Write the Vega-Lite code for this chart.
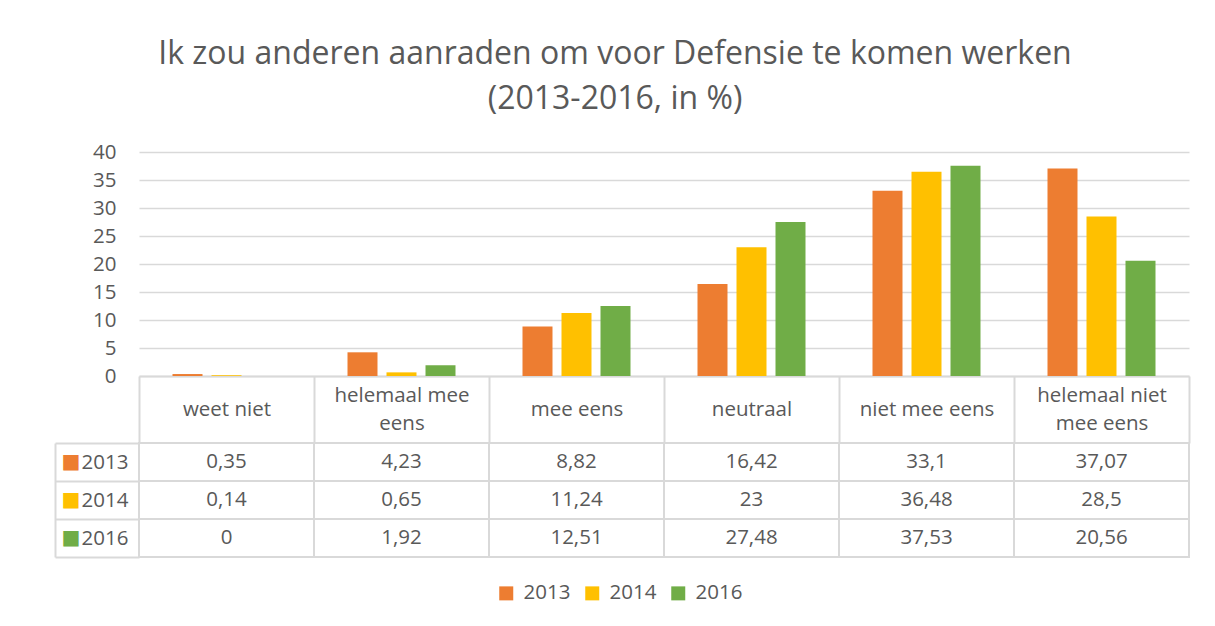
{
  "$schema": "https://vega.github.io/schema/vega-lite/v6.json",
  "background": "white",
  "padding": {"left": 54, "top": 38, "right": 20, "bottom": 10},
  "title": {
    "text": ["Ik zou anderen aanraden om voor Defensie te komen werken", "(2013-2016, in %)"],
    "font": "Open Sans",
    "fontSize": 32,
    "fontWeight": "normal",
    "color": "#595959",
    "lineHeight": 45,
    "anchor": "middle",
    "dx": -7,
    "offset": 26
  },
  "datasets": {
    "d": [
      {"cat": "weet niet", "year": "2013", "value": 0.35},
      {"cat": "weet niet", "year": "2014", "value": 0.14},
      {"cat": "weet niet", "year": "2016", "value": 0},
      {"cat": "helemaal mee eens", "year": "2013", "value": 4.23},
      {"cat": "helemaal mee eens", "year": "2014", "value": 0.65},
      {"cat": "helemaal mee eens", "year": "2016", "value": 1.92},
      {"cat": "mee eens", "year": "2013", "value": 8.82},
      {"cat": "mee eens", "year": "2014", "value": 11.24},
      {"cat": "mee eens", "year": "2016", "value": 12.51},
      {"cat": "neutraal", "year": "2013", "value": 16.42},
      {"cat": "neutraal", "year": "2014", "value": 23},
      {"cat": "neutraal", "year": "2016", "value": 27.48},
      {"cat": "niet mee eens", "year": "2013", "value": 33.1},
      {"cat": "niet mee eens", "year": "2014", "value": 36.48},
      {"cat": "niet mee eens", "year": "2016", "value": 37.53},
      {"cat": "helemaal niet mee eens", "year": "2013", "value": 37.07},
      {"cat": "helemaal niet mee eens", "year": "2014", "value": 28.5},
      {"cat": "helemaal niet mee eens", "year": "2016", "value": 20.56}
    ]
  },
  "bounds": "flush",
  "spacing": 67,
  "vconcat": [
    {
      "width": 1050,
      "height": 224,
      "data": {"name": "d"},
      "mark": {"type": "bar"},
      "encoding": {
        "x": {
          "field": "cat",
          "type": "nominal",
          "sort": ["weet niet", "helemaal mee eens", "mee eens", "neutraal", "niet mee eens", "helemaal niet mee eens"],
          "scale": {"paddingInner": 0, "paddingOuter": 0},
          "axis": {
            "title": null,
            "domainColor": "#d9d9d9",
            "domainWidth": 2,
            "tickColor": "#d9d9d9",
            "tickWidth": 2,
            "tickSize": 67,
            "tickBand": "extent",
            "labelAngle": 0,
            "labelFont": "Open Sans",
            "labelFontSize": 20.5,
            "labelColor": "#595959",
            "labelPadding": -48,
            "labelLineHeight": 14,
            "labelLimit": 300,
            "labelBaseline": "middle",
            "labelExpr": "datum.value == 'helemaal mee eens' ? ['helemaal mee', '\u200b', 'eens'] : datum.value == 'helemaal niet mee eens' ? ['helemaal niet', '\u200b', 'mee eens'] : ['\u200b', datum.value]"
          }
        },
        "xOffset": {
          "field": "year",
          "type": "nominal",
          "sort": ["2013", "2014", "2016"],
          "scale": {"paddingInner": 0.2308, "paddingOuter": 0.859}
        },
        "y": {
          "field": "value",
          "type": "quantitative",
          "scale": {"domain": [0, 40], "nice": false},
          "axis": {
            "title": null,
            "values": [0, 5, 10, 15, 20, 25, 30, 35, 40],
            "domain": false,
            "ticks": false,
            "tickSize": 0,
            "labelPadding": 23,
            "labelFont": "Open Sans",
            "labelFontSize": 20.5,
            "labelColor": "#595959",
            "gridColor": "#d9d9d9",
            "gridWidth": 1.3
          }
        },
        "color": {
          "field": "year",
          "type": "nominal",
          "scale": {"domain": ["2013", "2014", "2016"], "range": ["#ED7D31", "#FFC000", "#70AD47"]},
          "legend": {
            "orient": "none",
            "legendX": 357,
            "legendY": 431,
            "direction": "horizontal",
            "title": null,
            "symbolType": "square",
            "symbolSize": 196,
            "symbolStrokeWidth": 0,
            "labelFont": "Open Sans",
            "labelFontSize": 20.5,
            "labelColor": "#595959",
            "labelOffset": 7,
            "columnPadding": 11,
            "padding": 0
          }
        }
      }
    },
    {
      "width": 1050,
      "height": 114,
      "data": {"name": "d"},
      "transform": [
        {"calculate": "replace(format(datum.value, '~g'), '.', ',')", "as": "label"}
      ],
      "encoding": {
        "x": {
          "field": "cat",
          "type": "nominal",
          "sort": ["weet niet", "helemaal mee eens", "mee eens", "neutraal", "niet mee eens", "helemaal niet mee eens"],
          "scale": {"paddingInner": 0, "paddingOuter": 0},
          "axis": null
        }
      },
      "layer": [
        {
          "mark": {"type": "rect", "fill": "white", "stroke": "#d9d9d9", "strokeWidth": 2},
          "encoding": {
            "y": {
              "field": "year",
              "type": "ordinal",
              "sort": ["2013", "2014", "2016"],
              "scale": {"paddingInner": 0, "paddingOuter": 0},
              "axis": {
                "orient": "left",
                "title": null,
                "domain": false,
                "grid": false,
                "tickBand": "extent",
                "tickSize": 84,
                "tickWidth": 2,
                "tickColor": "#d9d9d9",
                "labelAlign": "left",
                "labelBaseline": "middle",
                "labelPadding": -26,
                "labelFont": "Open Sans",
                "labelFontSize": 20.5,
                "labelColor": "#595959"
              }
            }
          }
        },
        {
          "mark": {"type": "text", "font": "Open Sans", "fontSize": 20.5, "color": "#595959", "baseline": "middle"},
          "encoding": {
            "y": {
              "field": "year",
              "type": "ordinal",
              "sort": ["2013", "2014", "2016"],
              "scale": {"paddingInner": 0, "paddingOuter": 0},
              "axis": {
                "orient": "left",
                "title": null,
                "offset": 84,
                "domain": true,
                "domainColor": "#d9d9d9",
                "domainWidth": 2,
                "ticks": false,
                "tickSize": 0,
                "grid": false,
                "labelExpr": "'■'",
                "labelAlign": "left",
                "labelBaseline": "middle",
                "labelPadding": -6,
                "labelFont": "DejaVu Sans",
                "labelFontSize": 20,
                "labelColor": {"condition": [{"test": "datum.value == '2013'", "value": "#ED7D31"}, {"test": "datum.value == '2014'", "value": "#FFC000"}], "value": "#70AD47"}
              }
            },
            "text": {"field": "label", "type": "nominal"}
          }
        }
      ],
      "resolve": {"axis": {"y": "independent"}}
    }
  ],
  "config": {
    "view": {"stroke": null}
  }
}
